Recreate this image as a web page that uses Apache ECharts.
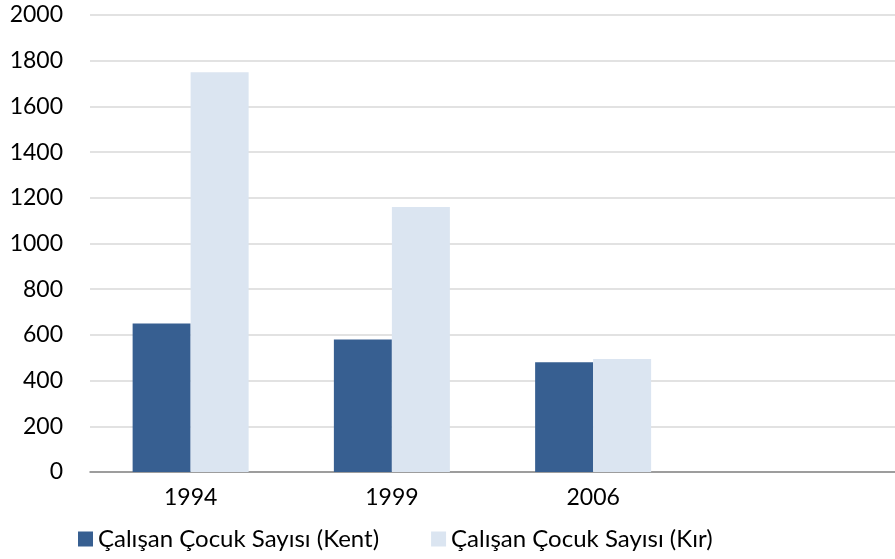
<!DOCTYPE html>
<html>
<head>
<meta charset="utf-8">
<script src="https://cdn.jsdelivr.net/npm/echarts@6/dist/echarts.min.js"></script>
<style>
html,body{margin:0;padding:0;background:#fff;}
#chart{width:895px;height:559px;}
</style>
</head>
<body>
<div id="chart"></div>
<script>
var years = ['1994', '1999', '2006', ''];
var kent = [650, 580, 480, null];
var kir = [1750, 1160, 495, null];
var seriesNames = ['Çalışan Çocuk Sayısı (Kent)', 'Çalışan Çocuk Sayısı (Kır)'];

var fontName = 'Lato';
var chart = echarts.init(document.getElementById('chart'));
var option = {
    animation: false,
    grid: {
        left: 90,
        right: 0,
        top: 15,
        bottom: 87
    },
    legend: {
        bottom: 3,
        left: 73,
        itemWidth: 15,
        itemHeight: 15,
        itemGap: 52,
        icon: 'rect',
        textStyle: { fontFamily: fontName, fontSize: 24, color: '#000' },
        data: seriesNames
    },
    xAxis: {
        type: 'category',
        data: years,
        axisTick: { show: false },
        axisLine: { lineStyle: { color: '#868686', width: 1.5 } },
        axisLabel: { fontFamily: fontName, fontSize: 23, color: '#000', margin: 14 }
    },
    yAxis: {
        type: 'value',
        min: 0,
        max: 2000,
        interval: 200,
        axisLine: { show: false },
        axisTick: { show: false },
        splitLine: { lineStyle: { color: '#d9d9d9', width: 1.5 } },
        axisLabel: {
            fontFamily: fontName, fontSize: 23, color: '#000', margin: 27,
            formatter: function (v) { return String(v); }
        }
    },
    series: [{
        name: seriesNames[0],
        type: 'bar',
        data: kent,
        barWidth: 58,
        barGap: '0%',
        itemStyle: { color: '#375f91' }
    }, {
        name: seriesNames[1],
        type: 'bar',
        data: kir,
        barWidth: 58,
        itemStyle: { color: '#dbe5f1' }
    }]
};
chart.setOption(option);
</script>
</body>
</html>
